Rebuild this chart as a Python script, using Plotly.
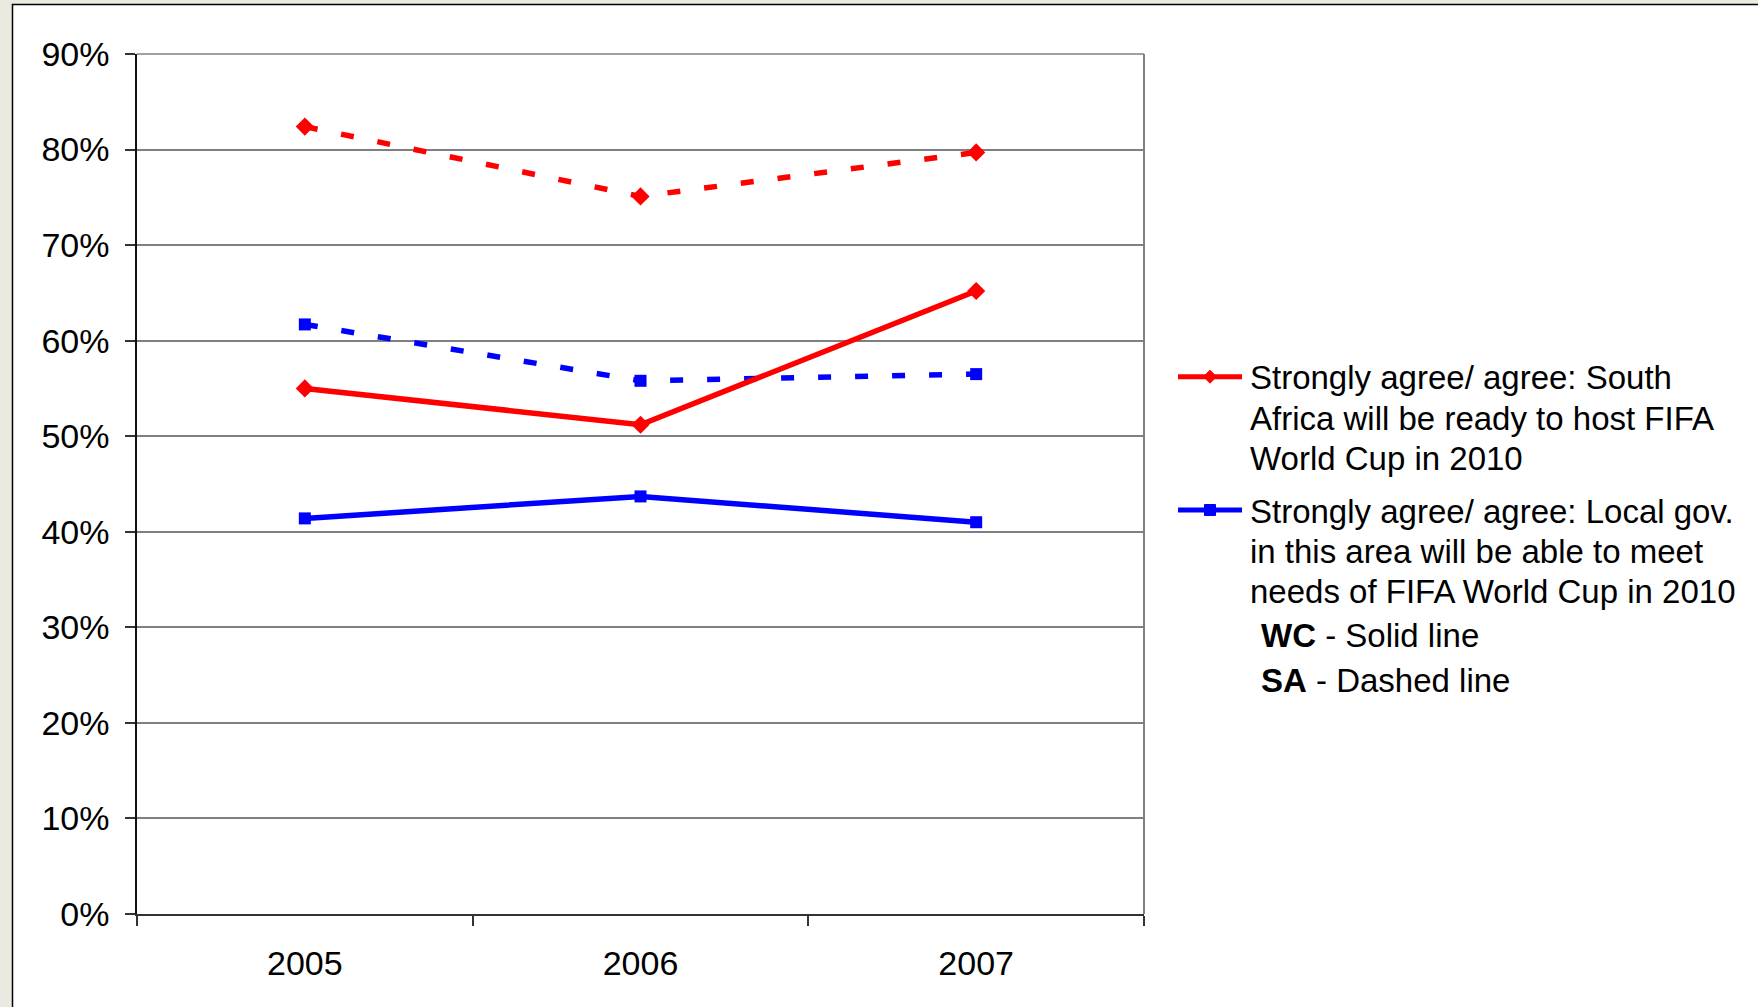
import plotly.graph_objects as go

# Survey years and the share (%) agreeing with each statement
years = ["2005", "2006", "2007"]
ready_wc = [55.0, 51.2, 65.2]      # South Africa ready to host, WC (solid)
ready_sa = [82.4, 75.1, 79.7]      # South Africa ready to host, SA (dashed)
localgov_wc = [41.4, 43.7, 41.0]   # local gov. able to meet needs, WC (solid)
localgov_sa = [61.7, 55.8, 56.5]   # local gov. able to meet needs, SA (dashed)

y_ticks = [0, 10, 20, 30, 40, 50, 60, 70, 80, 90]
y_tick_labels = ["0%", "10%", "20%", "30%", "40%", "50%", "60%", "70%", "80%", "90%"]

legend_ready = ["Strongly agree/ agree: South",
                "Africa will be ready to host FIFA",
                "World Cup in 2010"]
legend_localgov = ["Strongly agree/ agree: Local gov.",
                   "in this area will be able to meet",
                   "needs of FIFA World Cup in 2010"]
key_lines = ["<b>WC</b> - Solid line", "<b>SA</b> - Dashed line"]

RED = "#FF0000"
BLUE = "#0000FF"
FONT = "Liberation Sans, Arial, sans-serif"

W, H = 1758, 1007
L, R, T, B = 137, 1144, 54, 914   # plot-area edges in pixels


def px(x):
    return (x - L) / (R - L)


def py(y):
    return (B - y) / (B - T)


fig = go.Figure()

series = [
    (ready_sa, RED, "diamond", 14, "13px,24px"),
    (localgov_sa, BLUE, "square", 12, "13px,24px"),
    (ready_wc, RED, "diamond", 14, "solid"),
    (localgov_wc, BLUE, "square", 12, "solid"),
]
for vals, color, symbol, msize, dash in series:
    fig.add_trace(go.Scatter(
        x=years, y=vals, mode="lines+markers",
        line=dict(color=color, width=5.5, dash=dash),
        marker=dict(symbol=symbol, size=msize, color=color),
        showlegend=False, hoverinfo="x+y",
    ))

shapes = [
    # white chart panel with thin black frame
    dict(type="rect", xref="paper", yref="paper", layer="below",
         x0=px(12.5), x1=px(W + 5), y0=py(H + 5), y1=py(4.5),
         fillcolor="white", line=dict(color="black", width=1.5)),
    # top and right edges of the plot area
    dict(type="line", xref="paper", yref="paper",
         x0=0, x1=1, y0=1, y1=1, line=dict(color="#808080", width=1.5)),
    dict(type="line", xref="paper", yref="paper",
         x0=1, x1=1, y0=0, y1=1, line=dict(color="#808080", width=2)),
]

# legend keys
lx0, lx1, lxc = 1178, 1242, 1210
for yc, color, kind in [(376.7, RED, "diamond"), (510.0, BLUE, "square")]:
    shapes.append(dict(type="line", xref="paper", yref="paper",
                       x0=px(lx0), x1=px(lx1), y0=py(yc), y1=py(yc),
                       line=dict(color=color, width=5)))
    if kind == "diamond":
        h = 6.5
        path = (f"M {px(lxc - h)} {py(yc)} L {px(lxc)} {py(yc - h)} "
                f"L {px(lxc + h)} {py(yc)} L {px(lxc)} {py(yc + h)} Z")
        shapes.append(dict(type="path", xref="paper", yref="paper", path=path,
                           fillcolor=color, line=dict(color=color, width=1)))
    else:
        h = 5.5
        shapes.append(dict(type="rect", xref="paper", yref="paper",
                           x0=px(lxc - h), x1=px(lxc + h),
                           y0=py(yc + h), y1=py(yc - h),
                           fillcolor=color, line=dict(color=color, width=1)))

annotations = []
text_rows = [(legend_ready[0], 377.7, 1248), (legend_ready[1], 418.3, 1248),
             (legend_ready[2], 459.0, 1248),
             (legend_localgov[0], 511.0, 1248), (legend_localgov[1], 551.0, 1248),
             (legend_localgov[2], 591.0, 1248),
             (key_lines[0], 635.0, 1259), (key_lines[1], 680.0, 1259)]
for text, yc, xl in text_rows:
    annotations.append(dict(xref="paper", yref="paper", x=px(xl), y=py(yc),
                            xanchor="left", yanchor="middle", showarrow=False,
                            text=text, align="left",
                            font=dict(family=FONT, size=33, color="black")))

fig.update_layout(
    width=W, height=H,
    margin=dict(l=L, r=W - R, t=T, b=H - B, pad=0),
    paper_bgcolor="#EBE9E0",
    plot_bgcolor="white",
    font=dict(family=FONT, size=34, color="black"),
    shapes=shapes,
    annotations=annotations,
    xaxis=dict(
        type="category", categoryorder="array", categoryarray=years,
        range=[-0.5, 2.5], tickson="boundaries",
        ticks="outside", ticklen=10, tickwidth=1.5, tickcolor="#333333",
        showline=True, linecolor="#333333", linewidth=2,
        showgrid=False, zeroline=False,
        tickfont=dict(family=FONT, size=34, color="black"),
        ticklabelstandoff=18,
    ),
    yaxis=dict(
        range=[0, 90], tickmode="array", tickvals=y_ticks, ticktext=y_tick_labels,
        ticks="outside", ticklen=10, tickwidth=1.5, tickcolor="#333333",
        showline=True, linecolor="#111111", linewidth=1.5,
        showgrid=True, gridcolor="#7f7f7f", gridwidth=1.5,
        zeroline=False,
        tickfont=dict(family=FONT, size=34, color="black"),
        ticklabelstandoff=9,
    ),
)

fig.write_html("out.html")
